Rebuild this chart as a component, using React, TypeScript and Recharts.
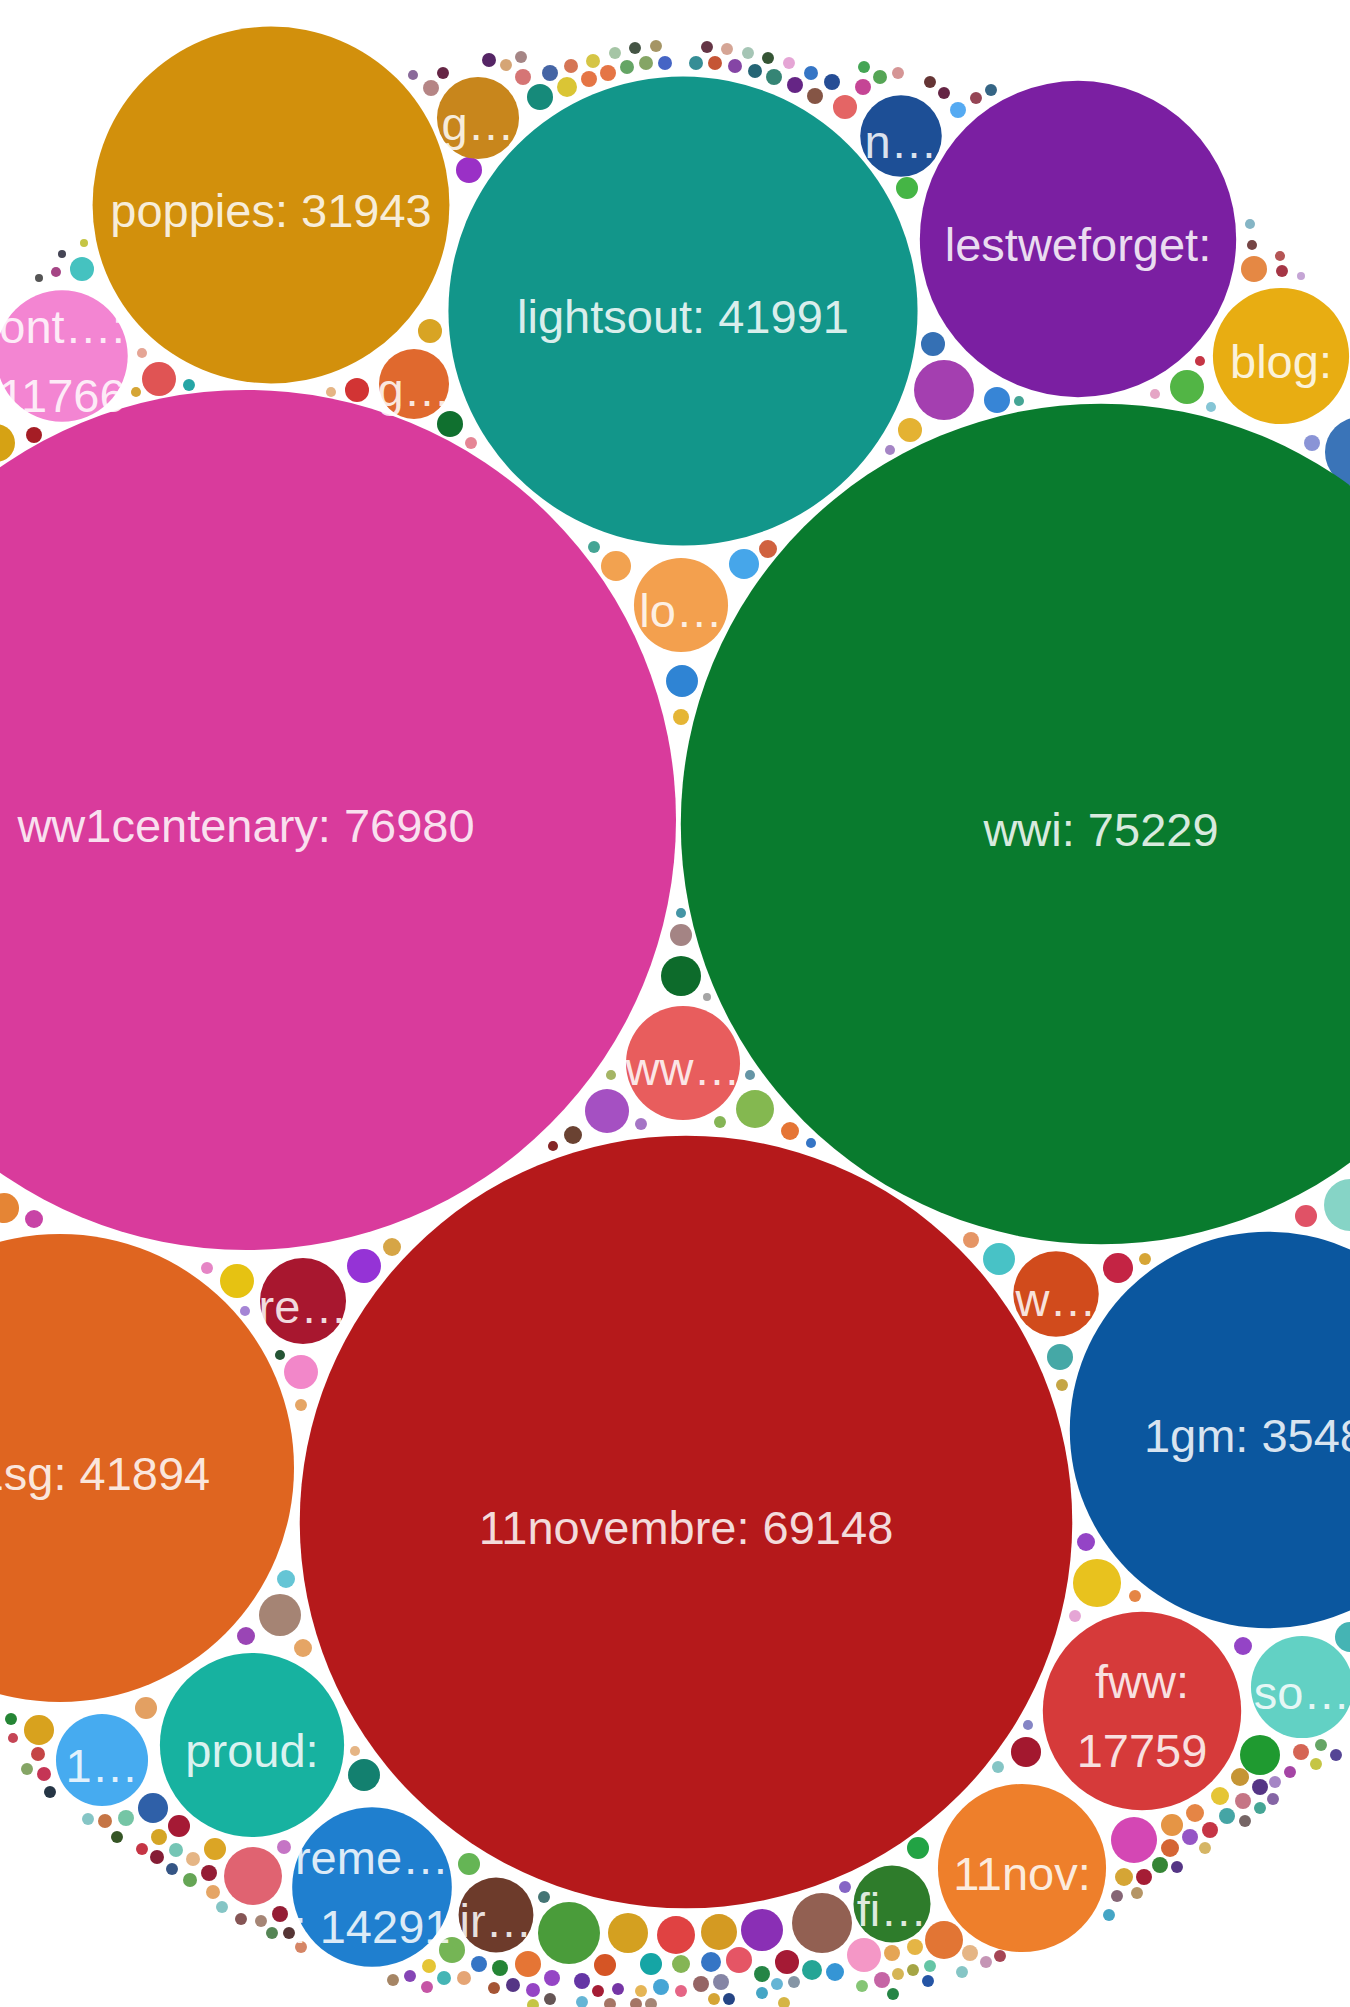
import { Scatter, ScatterChart, XAxis, YAxis, ZAxis } from 'recharts'

const W = 1350
const H = 2007
const MAX_COUNT = 76980

// hashtags with a label, text as shown in the bubble ("\n" = line break)
const tagLabels = [
  'ww1centenary: 76980', 'wwi: 75229', '11novembre: 69148', 'lightsout: 41991', 'ww1sg: 41894',
  '1gm: 35482', 'poppies: 31943', 'lestweforget:', 'fww:\n17759', 'proud:',
  '11nov:', 'reme…\n: 14291', 'ir…', 'blog:', 'ont…:\n11766',
  'ww…', 'so…', 'lo…', '1…', 'g…',
  'n…', 're…', 'w…', 'g…', 'fi…',
]
const tagCounts = [
  76980, 75229, 69148, 41991, 41894,
  35482, 31943, 28315, 17759, 16490,
  15050, 14291, 6700, 12190, 11766,
  10210, 9140, 8420, 8240, 7350,
  7300, 7700, 7650, 6270, 6900,
]
const tagX = [
  246, 1101, 686, 683, 60,
  1268, 271, 1078, 1142, 252,
  1022, 372, 496, 1281, 62,
  683, 1302, 681, 102, 478,
  901, 303, 1056, 414, 892,
]
const tagY = [
  820, 824, 1522, 311, 1468,
  1430, 205, 239, 1711, 1745,
  1868, 1887, 1915, 356, 356,
  1063, 1687, 605, 1760, 118,
  136, 1301, 1294, 384, 1904,
]
const tagColors = [
  '#d93b9c', '#097b2e', '#b5191b', '#12968a', '#df6520',
  '#0b579f', '#d2900c', '#7b1fa2', '#d63a3a', '#17b2a0',
  '#ee7f2b', '#1f7fcf', '#6d3b2b', '#e8ad12', '#f385d2',
  '#e85d5d', '#62d1c4', '#f3a04e', '#46abf0', '#c8861c',
  '#1d4f96', '#a8172f', '#d14b1c', '#e0692e', '#2e7c2b',
]

// the many small hashtags without a readable label
const minorCounts = [
  // top arc
  900, 1430, 1070, 1250, 1070, 1070, 1430, 2330, 2330, 1430, 1790, 1250, 1430, 1250, 1430, 1070,
  1250, 1070, 1250, 1070, 1250, 1250, 1070, 1250, 1070, 1250, 1070, 1250, 1070, 1430, 1070, 1430,
  1250, 1430, 1430, 2150, 1430, 1070, 1250, 1070, 1970, 1070, 1070, 1430, 1070, 1070,
  // top left
  2150, 900, 720, 720, 720, 3400, 1430, 3040, 900, 900, 1070, 900, 2150, 2150, 2330, 1070, 1070, 2690,
  // top right
  900, 2150, 2150, 5370, 2330, 900, 900, 3040, 900, 900, 2330, 1070, 900, 900, 900, 720, 1430, 6270,
  2690, 1610,
  // middle gaps
  2860, 1430, 900, 1970, 3580, 720, 900, 3400, 1070, 1610, 900, 3940, 1610, 900, 1070, 900,
  // lower left
  2690, 1610, 1070, 3040, 900, 3040, 1610, 900, 3040, 1070, 1610, 3760, 1610, 1610, 1970, 1070,
  900, 2690, 900, 2860,
  // bottom left rim
  1250, 1070, 1250, 1070, 1070, 1250, 1430, 1070, 2690, 1970, 1430, 1970, 1070, 1250, 1250, 1070,
  1250, 1430, 1250, 1250, 1070, 5190, 1250, 1070, 1070, 1430, 1070, 1070, 1070,
  // bottom rim
  1970, 2330, 1070, 5550, 1430, 1430, 2330, 1250, 1070, 1070, 1250, 1250, 1070, 1070, 1250, 1250,
  1430, 1430, 1070, 1070, 1070, 3580, 3400, 3220, 3760, 5370, 1970, 1970, 1610, 1790, 2330, 2150,
  1790, 1610, 3040, 1070, 1970, 3400, 1430, 1430, 1070, 1430, 1070, 1070, 1070, 1430, 1070, 1070,
  1070, 1070, 1070, 1070, 1070, 1430, 1070, 1430, 1430, 1070, 1430, 1070, 1070, 1070, 1070, 1070,
  1070, 1070, 1070, 1070,
  // bottom right rim
  2690, 1070, 900, 4120, 1970, 1610, 1430, 1430, 1070, 1610, 1430, 1070, 1430, 1610, 1070, 1070,
  1070, 3580, 1610, 1610, 1430, 1070, 1070, 1430, 1070, 1070, 1430, 1070, 1430, 1070, 1070, 1070,
  2690, 1610,
  // right side
  4300, 1610, 1070, 1070, 2330, 1070, 2690, 1070, 2860, 1430, 1970, 4650,
]
const minorX = [
  413, 431, 443, 489, 506, 521, 523, 469, 540, 550, 567, 571, 589, 593, 608, 615,
  627, 635, 646, 656, 665, 696, 707, 715, 727, 735, 748, 755, 768, 774, 789, 795,
  811, 815, 832, 845, 863, 864, 880, 898, 907, 930, 944, 958, 976, 991,
  82, 56, 39, 62, 84, -4, 34, 159, 142, 136, 189, 331, 357, 430, 450, 471, 594, 616,
  890, 910, 933, 944, 997, 1019, 1155, 1187, 1200, 1211, 1254, 1282, 1252, 1250, 1280, 1301, 1312, 1360,
  744, 768,
  682, 681, 681, 681, 681, 707, 750, 755, 720, 790, 811, 607, 573, 553, 641, 611,
  4, 34, 207, 237, 245, 364, 392, 280, 301, 301, 286, 280, 246, 303, 146, 11,
  13, 39, 355, 364,
  38, 27, 44, 50, 88, 105, 126, 117, 153, 179, 159, 215, 142, 157, 176, 172,
  193, 209, 190, 213, 222, 253, 284, 241, 261, 280, 272, 289, 301,
  469, 452, 544, 569, 479, 500, 528, 429, 410, 393, 444, 464, 427, 494, 513, 533,
  552, 582, 550, 533, 582, 628, 676, 719, 762, 822, 605, 651, 681, 711, 739, 787,
  812, 835, 864, 845, 918, 944, 892, 915, 930, 970, 986, 1000, 962, 882, 898, 913,
  928, 893, 862, 794, 777, 762, 762, 721, 701, 681, 661, 641, 598, 618, 714, 729,
  784, 610, 636, 651,
  1026, 998, 1028, 1134, 1172, 1195, 1210, 1190, 1205, 1170, 1160, 1177, 1144, 1124, 1137, 1117,
  1109, 1260, 1240, 1220, 1260, 1275, 1290, 1243, 1260, 1273, 1227, 1245, 1301, 1316, 1321, 1336,
  1350, 1243,
  1097, 1086, 1135, 1075, 1060, 1062, 1118, 1145, 999, 971, 1306, 1350,
]
const minorY = [
  75, 88, 73, 60, 65, 57, 77, 170, 97, 73, 87, 66, 79, 61, 73, 53,
  67, 48, 63, 46, 63, 63, 47, 63, 49, 66, 53, 71, 58, 77, 63, 85,
  73, 96, 82, 107, 87, 67, 77, 73, 188, 82, 93, 110, 98, 90,
  269, 272, 278, 254, 243, 443, 435, 379, 353, 392, 385, 392, 390, 331, 424, 443, 547, 566,
  450, 430, 344, 390, 400, 401, 394, 387, 361, 407, 269, 271, 245, 224, 256, 276, 443, 452,
  564, 549,
  681, 717, 913, 935, 976, 997, 1075, 1109, 1122, 1131, 1143, 1111, 1135, 1146, 1124, 1075,
  1208, 1219, 1268, 1281, 1311, 1266, 1247, 1355, 1372, 1405, 1579, 1615, 1636, 1648, 1708, 1719,
  1738, 1730, 1751, 1775,
  1754, 1769, 1774, 1792, 1819, 1821, 1818, 1837, 1808, 1826, 1837, 1849, 1849, 1857, 1850, 1869,
  1859, 1873, 1880, 1892, 1907, 1876, 1847, 1919, 1921, 1914, 1933, 1933, 1947,
  1864, 1950, 1897, 1933, 1964, 1968, 1964, 1966, 1976, 1980, 1978, 1978, 1987, 1988, 1985, 1990,
  1978, 1981, 1999, 2005, 2002, 1933, 1935, 1932, 1930, 1923, 1965, 1964, 1964, 1962, 1960, 1962,
  1970, 1972, 1955, 1887, 1848, 1940, 1953, 1947, 1966, 1953, 1962, 1956, 1972, 1980, 1974, 1970,
  1981, 1994, 1986, 1982, 1984, 1974, 1993, 1982, 1984, 1991, 1987, 1991, 1991, 1989, 1999, 1999,
  2003, 2004, 2004, 2004,
  1752, 1767, 1725, 1840, 1825, 1813, 1830, 1837, 1848, 1848, 1865, 1867, 1877, 1877, 1893, 1896,
  1915, 1755, 1777, 1796, 1787, 1782, 1772, 1801, 1808, 1799, 1816, 1821, 1752, 1764, 1745, 1755,
  1637, 1646,
  1583, 1542, 1596, 1616, 1357, 1385, 1268, 1259, 1259, 1240, 1216, 1205,
]
const minorColors = [
  '#8a6a9a', '#b58585', '#652545', '#552565', '#d5a575', '#a58585', '#d57575', '#9a30c6', '#168a7a', '#4565a5', '#dac535', '#d57555', '#e57545', '#d5c545', '#e57545', '#a5c5a5',
  '#65a565', '#455545', '#85a565', '#a59565', '#4565c5', '#358d95', '#653545', '#c55535', '#d5a595', '#8545a5', '#a5c5b5', '#256575', '#355535', '#358575', '#e5a5d5', '#652585',
  '#3575c5', '#855545', '#254d95', '#e46565', '#c54595', '#45a555', '#55a555', '#d59595', '#45b545', '#653535', '#652545', '#55aaf2', '#954555', '#356585',
  '#45c2c0', '#a54585', '#555555', '#454555', '#c5c545', '#d6a214', '#a51d25', '#e05454', '#e5a595', '#d5a535', '#25a5a5', '#e5b585', '#d23434', '#d8a424', '#10702f', '#e58595', '#45a595', '#f2a250',
  '#a585c5', '#e4b232', '#3570b4', '#a43fb0', '#3785d6', '#45a595', '#e5a5c5', '#52b545', '#c53545', '#85c5d5', '#e58844', '#a53545', '#754545', '#85b5c5', '#b55555', '#c5a5d5', '#8a94d6', '#3a74b8',
  '#46a6ea', '#d0623f',
  '#2f84d4', '#e5b535', '#4595a5', '#a48484', '#0d6b2b', '#a5a5a5', '#6595a5', '#84b850', '#85b555', '#e57535', '#3575c5', '#a550c2', '#6a4232', '#852525', '#a575c5', '#a5b565',
  '#e58535', '#c843a6', '#e585c5', '#e6c212', '#a585d5', '#9533d6', '#d6a546', '#255535', '#f287c9', '#e5a565', '#65c5d5', '#a58474', '#9a45b5', '#e5a565', '#e3a062', '#258535',
  '#c54555', '#d8a21e', '#e5b585', '#13806f',
  '#c54545', '#85a565', '#c53555', '#253545', '#85c5c5', '#c57545', '#75c5a5', '#355525', '#2f60a8', '#a51a35', '#d5a525', '#dba525', '#c53545', '#851d35', '#75c5b5', '#355585',
  '#e5b585', '#951d35', '#65a555', '#e5a565', '#85c5c5', '#e06371', '#c575c5', '#855555', '#a58575', '#951d35', '#558555', '#553535', '#d58565',
  '#65b555', '#75b555', '#457575', '#4a9c3a', '#3575c5', '#258535', '#e57535', '#e5c535', '#8545b5', '#a58565', '#45b5b5', '#e5a575', '#c555a5', '#a55535', '#553585', '#9545c5',
  '#9545c5', '#6535a5', '#655555', '#c5c545', '#65b5d5', '#d4a020', '#e04242', '#d49a22', '#8a2fb5', '#926052', '#d55525', '#15a5a5', '#85b555', '#3575c5', '#e55565', '#a51a35',
  '#25a595', '#3595d5', '#f497c6', '#8565c5', '#22a344', '#e27534', '#e5a555', '#e5b545', '#65c5a5', '#e5b585', '#c595b5', '#a54555', '#85c5c5', '#c565a5', '#d5b555', '#a5a545',
  '#2555a5', '#258545', '#85c575', '#8595a5', '#65b5d5', '#258545', '#45a5c5', '#8585a5', '#956565', '#e56585', '#45a5d5', '#e5b555', '#a51d35', '#7535a5', '#d5a535', '#254585',
  '#d5b545', '#a57565', '#a57565', '#a58575',
  '#a3182f', '#85c5c5', '#8585c5', '#d447b4', '#e59545', '#e58545', '#c53545', '#9555c5', '#d5b565', '#d56535', '#358535', '#553585', '#a51d35', '#d5a535', '#b59565', '#856575',
  '#45a5c5', '#1f9a30', '#c59535', '#e5c535', '#553585', '#a585c5', '#a545a5', '#c57585', '#45a595', '#8565a5', '#45a5a5', '#756565', '#d56555', '#c5c545', '#65a565', '#554595',
  '#45b4b4', '#9444c6',
  '#e8c21e', '#9444c6', '#e58545', '#e5a5d5', '#45a8a6', '#c5a545', '#c42444', '#d6a536', '#48c2c6', '#e59565', '#e05266', '#86d4c6',
]

const bubbles = [
  ...minorCounts.map((v, i) => ({ x: minorX[i], y: minorY[i], value: v, label: '', color: minorColors[i] })),
  ...tagCounts.map((v, i) => ({ x: tagX[i], y: tagY[i], value: v, label: tagLabels[i], color: tagColors[i] })),
]

function Bubble(props: any) {
  const { cx, cy, size, width, payload } = props
  if (cx == null || cy == null) return null
  const r = typeof size === 'number' ? size : width / 2
  const lines: string[] = payload.label ? payload.label.split('\n') : []
  return (
    <g>
      <circle cx={cx} cy={cy} r={r} fill={payload.color} />
      {lines.map((t, i) => (
        <text
          key={i}
          x={cx}
          y={cy + 5 + (i - (lines.length - 1) / 2) * 69}
          textAnchor="middle"
          dominantBaseline="central"
          fontFamily="'Liberation Sans', Arial, sans-serif"
          fontSize={47}
          fill="#ffffff"
          fillOpacity={0.85}
        >
          {t}
        </text>
      ))}
    </g>
  )
}

export default function App() {
  return (
    <div style={{ position: 'absolute', left: 0, top: 0, width: W, height: H, overflow: 'hidden', background: '#fff' }}>
      <style>{'body{margin:0}'}</style>
      <ScatterChart width={W} height={H} margin={{ top: 0, right: 0, bottom: 0, left: 0 }}>
        <XAxis type="number" dataKey="x" domain={[0, W]} hide allowDataOverflow />
        <YAxis type="number" dataKey="y" domain={[0, H]} reversed hide allowDataOverflow />
        <ZAxis type="number" dataKey="value" domain={[0, MAX_COUNT]} range={[0, 430]} />
        <Scatter data={bubbles} shape={(p: any) => <Bubble {...p} />} isAnimationActive={false} />
      </ScatterChart>
    </div>
  )
}
